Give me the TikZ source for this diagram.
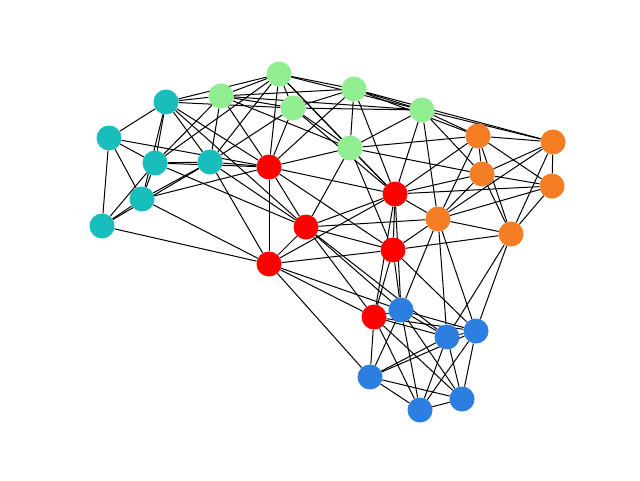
\documentclass[tikz,border=0pt]{standalone}
\usetikzlibrary{backgrounds}
\definecolor{cteal}{RGB}{24,190,187}
\definecolor{cgreen}{RGB}{144,238,144}
\definecolor{cred}{RGB}{255,0,0}
\definecolor{corange}{RGB}{245,125,35}
\definecolor{cblue}{RGB}{44,127,225}
\tikzset{
  vtx/.style={circle,minimum size=25pt,inner sep=0pt,draw=none},
  tv/.style={vtx,fill=cteal}, gv/.style={vtx,fill=cgreen}, rv/.style={vtx,fill=cred},
  ov/.style={vtx,fill=corange}, bv/.style={vtx,fill=cblue},
  edge/.style={black,line width=1pt}
}
\begin{document}
\begin{tikzpicture}[x=1pt,y=-1pt]
\useasboundingbox (0,0) rectangle (640,480);
\node[tv] (T1) at (166,102) {};
\node[tv] (T2) at (109,138) {};
\node[tv] (T3) at (155,163) {};
\node[tv] (T4) at (210,162) {};
\node[tv] (T5) at (142,199) {};
\node[tv] (T6) at (102,226) {};
\node[gv] (G1) at (279,74) {};
\node[gv] (G2) at (221,96) {};
\node[gv] (G3) at (293,108) {};
\node[gv] (G4) at (354,89) {};
\node[gv] (G5) at (422,110) {};
\node[gv] (G6) at (350,148) {};
\node[rv] (R1) at (269,167) {};
\node[rv] (R2) at (395,194) {};
\node[rv] (R3) at (306,227) {};
\node[rv] (R4) at (393,250) {};
\node[rv] (R5) at (269,264) {};
\node[rv] (R6) at (374,317) {};
\node[ov] (O1) at (478,136) {};
\node[ov] (O2) at (553,142) {};
\node[ov] (O3) at (482,174) {};
\node[ov] (O4) at (552,186) {};
\node[ov] (O5) at (438,219) {};
\node[ov] (O6) at (511,234) {};
\node[bv] (B1) at (401,310) {};
\node[bv] (B2) at (447,337) {};
\node[bv] (B3) at (476,331) {};
\node[bv] (B4) at (370,377) {};
\node[bv] (B5) at (420,410) {};
\node[bv] (B6) at (462,399) {};
\begin{scope}[on background layer]
\fill[white] (0,0) rectangle (640,480);
\foreach \a/\b in {T1/T2,T1/T3,T1/T5,T1/T4,T2/T3,T2/T5,T2/T6,T3/T4,T3/T5,T4/T5,T5/T6,T6/T3,T6/T4,
 T1/G2,T1/G1,T1/G3,T4/G2,T4/G1,T4/G3,T3/G1,T3/G2,
 T2/R1,T3/R1,T4/R1,T5/R1,T1/R1,T6/R5,T5/R5,T4/R5,T3/R3,T4/R3,T1/R3,
 G1/G2,G1/G3,G1/G4,G2/G3,G2/G4,G3/G4,G4/G5,G1/G5,G2/G5,G3/G5,G1/G6,G2/G6,G3/G6,G4/G6,G5/G6,
 G1/R1,G2/R1,G3/R1,G4/R1,G6/R1,G6/R2,G6/R3,G6/R4,G3/R2,G4/R2,G5/R2,G1/R2,
 G4/O1,G5/O1,G5/O2,G4/O2,G6/O1,G6/O3,G5/O5,G5/O3,
 R1/R2,R1/R3,R1/R4,R1/R5,R2/R3,R2/R4,R3/R4,R3/R5,R4/R5,R5/R6,R3/R6,R4/R6,R2/R6,R5/R2,
 R2/O1,R2/O3,R2/O4,R2/O5,R3/O5,R4/O5,R4/O6,
 R5/B4,R5/B1,R3/B1,R3/B2,R4/B1,R4/B3,R2/B1,R6/B1,R6/B2,R6/B3,R6/B4,R6/B5,R6/B6,
 O1/O2,O1/O3,O1/O4,O1/O5,O1/O6,O2/O4,O2/O3,O2/O5,O2/O6,O3/O4,O3/O5,O3/O6,O4/O5,O4/O6,O5/O6,
 O5/B1,O5/B2,O5/B3,O6/B2,O6/B3,
 B1/B2,B1/B3,B1/B4,B1/B5,B1/B6,B2/B3,B2/B4,B2/B5,B2/B6,B3/B4,B3/B5,B3/B6,B4/B5,B4/B6,B5/B6}
  \draw[edge] (\a) -- (\b);
\end{scope}
\end{tikzpicture}
\end{document}
